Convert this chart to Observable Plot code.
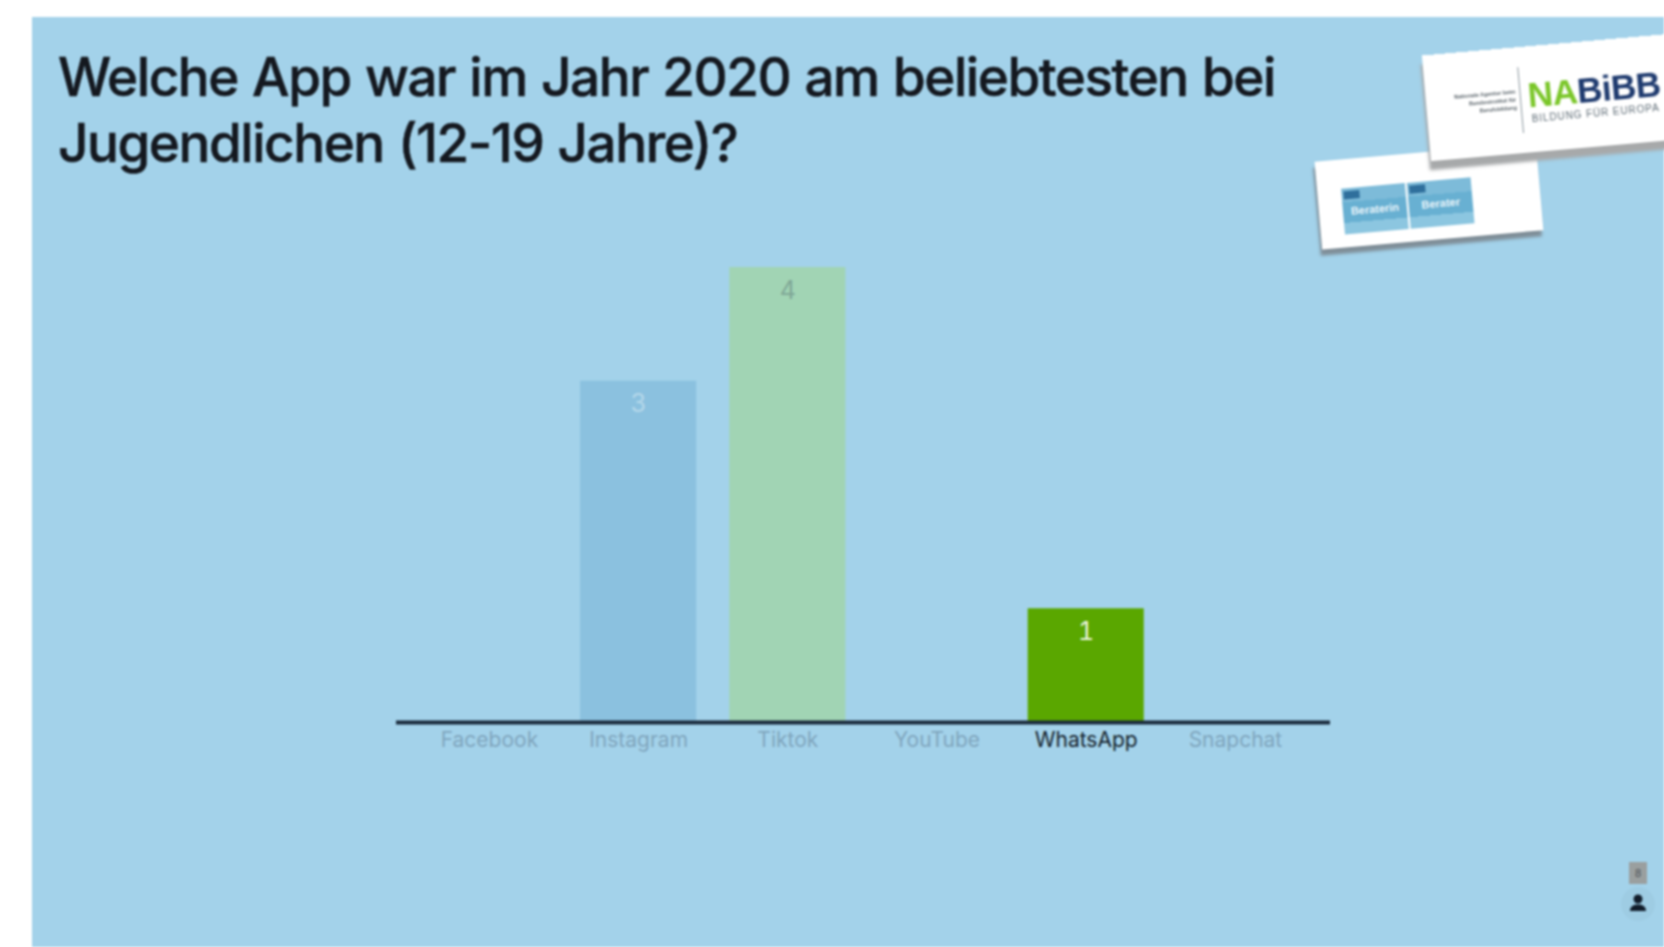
<!DOCTYPE html>
<html lang="de">
<head>
<meta charset="utf-8">
<script src="https://cdn.jsdelivr.net/npm/d3@7"></script>
<script src="https://cdn.jsdelivr.net/npm/@observablehq/plot@0.6"></script>
<style>
html,body{margin:0;padding:0;background:#fff;width:1664px;height:947px;overflow:hidden}
#stage{position:absolute;left:0;top:0;width:1664px;height:947px;filter:blur(.8px)}
#panel{position:absolute;left:32px;top:17px;right:0;bottom:0;background:#a3d2ea}
#chart{position:absolute;left:0;top:0}
#chart svg{display:block;background:transparent}
h1{position:absolute;left:58px;top:44px;margin:0;width:1290px;font:500 53px/66px Inter,sans-serif;letter-spacing:-1.45px;word-spacing:1.5px;-webkit-text-stroke:.5px #14181f;color:#14181f}
.card{position:absolute;background:#fff}
#card2{left:1318px;top:152px;width:222px;height:88px;transform:rotate(-5deg);box-shadow:-2px 6px 3px #7f8e98}
.mini{position:absolute;top:29px;width:64px;height:46px;background:linear-gradient(#7dbbd9 0 30%,#68b0d2 30% 75%,#8cc6e0 75%);color:#e8f4fa;font:700 11px/46px "Liberation Sans",sans-serif;text-align:center}
.mini:before{content:"";position:absolute;left:2px;top:3px;width:16px;height:8px;background:#2f6f9c}
#card1{left:1426px;top:44px;width:260px;height:106px;transform:rotate(-5deg);box-shadow:-2px 9px 3px #a7a9aa}
#na{position:absolute;left:102px;top:31px;font:900 35px/36px "Liberation Sans",sans-serif;letter-spacing:-.5px;color:#1e3a6e;white-space:nowrap}
#na b{color:#7ac628}
#sub{position:absolute;left:104px;top:67px;font:10px/12px "Liberation Sans",sans-serif;color:#5d6b75;white-space:nowrap;letter-spacing:.9px}
#sep{position:absolute;left:94px;top:20px;width:1px;height:66px;background:#8b979e}
#ag{position:absolute;left:24px;top:40px;width:66px;font:700 5.5px/8px "Liberation Sans",sans-serif;color:#555f66;text-align:right}
#badge{position:absolute;left:1629px;top:862px;width:18px;height:22px;background:#9a9f9f;color:#4a5054;font:11px/22px "Liberation Sans",sans-serif;text-align:center}
#person{position:absolute;left:1620px;top:886px}
</style>
</head>
<body>
<div id="stage">
  <div id="panel"></div>
  <h1>Welche App war im Jahr 2020 am beliebtesten bei<br>Jugendlichen (12-19 Jahre)?</h1>
  <div id="chart"></div>
  <div class="card" id="card2"><div class="mini" style="left:24px">Beraterin</div><div class="mini" style="left:90px">Berater</div></div>
  <div class="card" id="card1"><div id="ag">Nationale Agentur beim Bundesinstitut für Berufsbildung</div><div id="sep"></div><div id="na"><b>NA</b>BiBB</div><div id="sub">BILDUNG FÜR EUROPA</div></div>
  <div id="badge">8</div>
  <svg id="person" width="36" height="36" viewBox="0 0 36 36"><circle cx="18" cy="18" r="17" fill="#9ecce3"/><circle cx="18" cy="13" r="4.5" fill="#111c2a"/><path d="M10 25c0-5 4-6.500 8-6.500s8 1.500 8 6.500z" fill="#111c2a"/></svg>
</div>
<script>
const apps = ["Facebook", "Instagram", "Tiktok", "YouTube", "WhatsApp", "Snapchat"];
const votes = [0, 3, 4, 0, 1, 0];
const barColors = ["#a3d2ea", "#8bc1df", "#a1d4b4", "#a3d2ea", "#5aa700", "#a3d2ea"];
const labelColors = ["#7fa5bd", "#7fa5bd", "#7fa5bd", "#7fa5bd", "#141f2c", "#7fa5bd"];
const valueColors = ["none", "#b5d8ea", "#7fa796", "none", "#eef6e4", "none"];

const rows = apps.map((app, i) => ({app, votes: votes[i], bar: barColors[i], label: labelColors[i], value: valueColors[i]}));
const shown = rows.filter(d => d.votes > 0);

const chart = Plot.plot({
  width: 1664,
  height: 947,
  marginLeft: 396,
  marginRight: 334,
  marginTop: 267,
  marginBottom: 225,
  style: {background: "transparent", fontFamily: "Inter, sans-serif"},
  x: {domain: apps, paddingInner: 0.222, paddingOuter: 0.241, align: 0.485, round: false, axis: null},
  y: {domain: [0, 4], axis: null},
  marks: [
    Plot.barY(shown, {x: "app", y: "votes", fill: "bar"}),
    Plot.ruleY([0], {stroke: "#1a2a3c", strokeWidth: 4}),
    Plot.text(rows, {x: "app", y: () => 0, dy: 18, text: "app", fill: "label", fontSize: 21, fontWeight: 400, letterSpacing: "0.1px"}),
    Plot.text(shown, {x: "app", y: "votes", dy: 23, text: "votes", fill: "value", fontSize: 25})
  ]
});
document.getElementById("chart").append(chart);
</script>
</body>
</html>
